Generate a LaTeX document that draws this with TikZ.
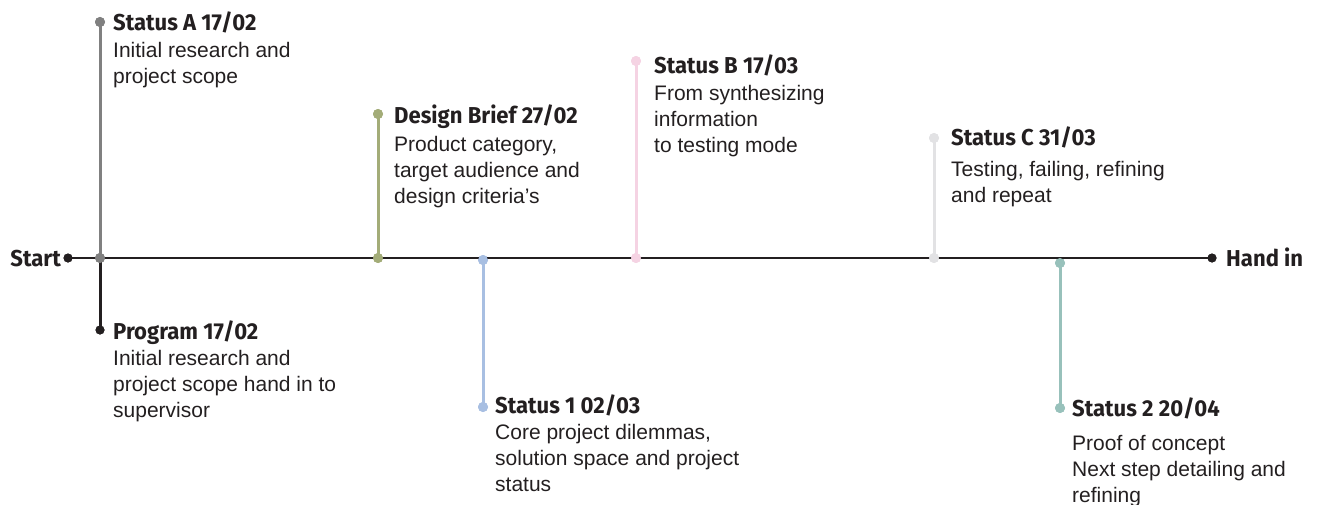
\documentclass[tikz,border=0pt]{standalone}
\usepackage{fontspec}
\setmainfont{Liberation Sans}
\newfontfamily\titlefont{Fira Sans}[FakeStretch=0.96]
\definecolor{ink}{HTML}{231F20}
\definecolor{cA}{HTML}{808080}
\definecolor{cD}{HTML}{A3AC78}
\definecolor{c1}{HTML}{A8BFE2}
\definecolor{cB}{HTML}{F5D3E3}
\definecolor{cC}{HTML}{E2E2E4}
\definecolor{c2}{HTML}{98C1BB}
\begin{document}
\begin{tikzpicture}[x=1pt,y=-1pt,
  dot/.style={circle,fill=#1,inner sep=0pt,minimum size=10pt},
  stem/.style={line width=3pt,draw=#1},
  ttl/.style={anchor=base west,inner sep=0pt,text=ink,font=\titlefont\bfseries\fontsize{23}{27}\selectfont},
  body/.style={anchor=north west,inner sep=0pt,align=left,text=ink,font=\fontsize{21}{26}\selectfont},
  endlbl/.style={inner sep=0pt,text=ink,font=\titlefont\bfseries\fontsize{23}{27}\selectfont}]
\useasboundingbox (0,0) rectangle (1321,505);
% dots on the axis and at the ends
\node[dot=ink,minimum size=9pt] (start) at (68,258) {};
\node[dot=ink,minimum size=9pt] (hand) at (1212,258) {};
\node[dot=cA] (a0) at (100,258) {};
\node[dot=cA] (a1) at (100,22) {};
\node[dot=ink,minimum size=9pt] (p1) at (100,330) {};
\node[dot=cD] (d0) at (378,258) {};
\node[dot=cD] (d1) at (378,114) {};
\node[dot=c1] (s10) at (483,260) {};
\node[dot=c1] (s11) at (483,407) {};
\node[dot=cB] (b0) at (636,258) {};
\node[dot=cB] (b1) at (636,61) {};
\node[dot=cC] (c0) at (934,258) {};
\node[dot=cC] (c1n) at (934,138) {};
\node[dot=c2] (s20) at (1060,263) {};
\node[dot=c2] (s21) at (1060,408) {};
% connectors
\draw[line width=2.8pt,ink] (start.center) -- (hand.center);
\draw[stem=ink] (a0.center) -- (p1.center);
\draw[stem=cA] (a0.center) -- (a1.center);
\draw[stem=cD] (d0.center) -- (d1.center);
\draw[stem=c1] (s10.center) -- (s11.center);
\draw[stem=cB] (b0.center) -- (b1.center);
\draw[stem=cC] (c0.center) -- (c1n.center);
\draw[stem=c2] (s20.center) -- (s21.center);
% redraw dots on top
\foreach \n/\c/\s in {start/ink/9,hand/ink/9,a0/cA/10,a1/cA/10,p1/ink/9,d0/cD/10,d1/cD/10,s10/c1/10,s11/c1/10,b0/cB/10,b1/cB/10,c0/cC/10,c1n/cC/10,s20/c2/10,s21/c2/10}
  \fill[\c] (\n.center) circle[radius=\s/2];
% end labels
\node[endlbl,anchor=base east] (lstart) at (61,266) {Start};
\node[endlbl,anchor=base west] (lhand) at (1226,266) {Hand in};
% titles and descriptions
\node[ttl] (tA) at (113,31) {Status A 17/02};
\node[body] (bA) at (113,57-18.2) {\strut Initial research and\\project scope};
\node[ttl] (tP) at (113,339) {Program 17/02};
\node[body] (bP) at (113,365-18.2) {\strut Initial research and\\project scope hand in to\\supervisor};
\node[ttl] (tD) at (394,124) {Design Brief 27/02};
\node[body] (bD) at (394,151-18.2) {\strut Product category,\\target audience and\\design criteria’s};
\node[ttl] (t1) at (495,413) {Status 1 02/03};
\node[body] (b1x) at (495,439-18.2) {\strut Core project dilemmas,\\solution space and project\\status};
\node[ttl] (tB) at (654,74) {Status B 17/03};
\node[body] (bB) at (654,100-18.2) {\strut From synthesizing\\information\\to testing mode};
\node[ttl] (tC) at (951,146) {Status C 31/03};
\node[body] (bC) at (951,176-18.2) {\strut Testing, failing, refining\\and repeat};
\node[ttl] (t2) at (1072,416) {Status 2 20/04};
\node[body] (b2) at (1072,450-18.2) {\strut Proof of concept\\Next step detailing and\\refining};
\end{tikzpicture}
\end{document}
